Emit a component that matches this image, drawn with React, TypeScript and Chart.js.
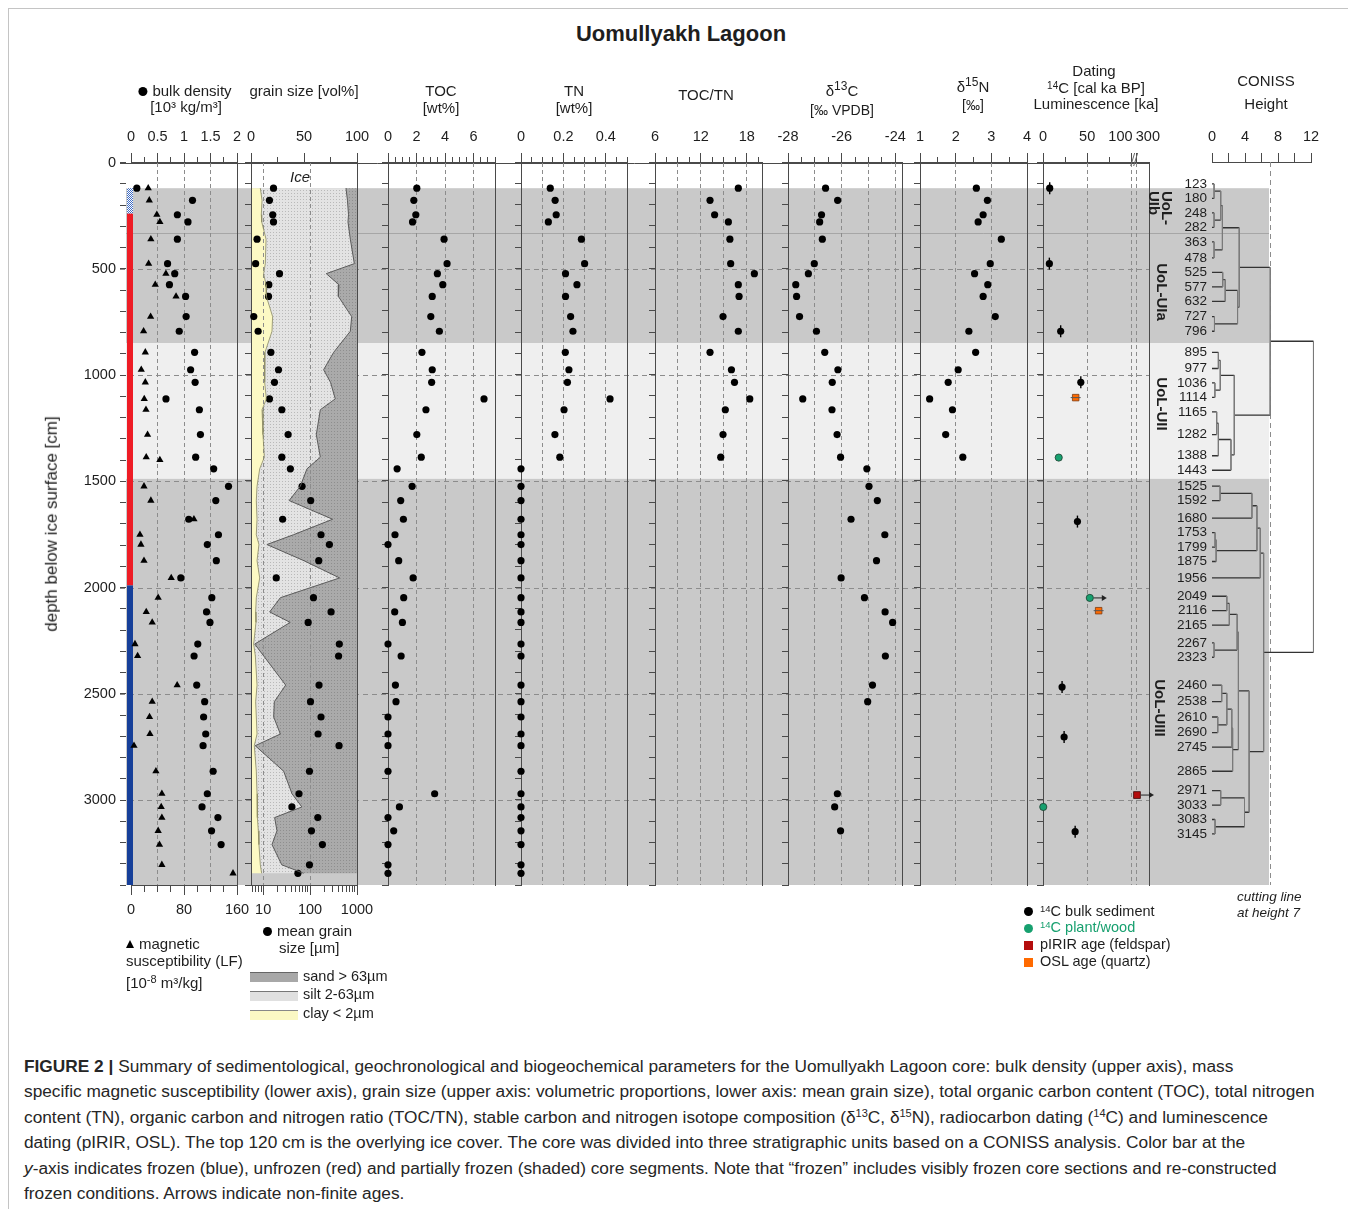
import React, { useEffect, useRef } from "react";
import { Chart, registerables } from "chart.js";

Chart.register(...registerables);

const FONT = '"Liberation Sans", Arial, Helvetica, sans-serif';
const AXIS = "#4a4a4a";
const GRID = "#8c8c8c";
const TXT = "#1e1e1e";
const TICK_SIZE = 14.5;

// ======================= DATA =======================
const sampleDepth = [123, 180, 248, 282, 363, 478, 525, 577, 632, 727, 796, 895, 977, 1036, 1114, 1165, 1282, 1388, 1443, 1525, 1592, 1680, 1753, 1799, 1875, 1956, 2049, 2116, 2165, 2267, 2323, 2460, 2538, 2610, 2690, 2745, 2865, 2971, 3033, 3083, 3145, 3210, 3305, 3345];

const bulkDensity = [0.11, 1.16, 0.875, 1.075, 0.875, 0.69, 0.825, 0.725, 1.03, 1.04, 0.91, 1.2, 1.125, 1.21, 0.66, 1.29, 1.31, 1.22, 1.56,
  1.84, 1.6, 1.09, 1.65, 1.44, 1.61, 0.94, 1.525, 1.425, 1.49, 1.26, 1.19, 1.24, 1.39, 1.37, 1.41, 1.36, 1.55, 1.44, 1.34, 1.64, 1.52, 1.7, null, null];

const magSusDepth = [123, 180, 248, 282, 363, 478, 525, 577, 632, 727, 796, 895, 977, 1036, 1114, 1165, 1282, 1388, 1401, 1525, 1592, 1680, 1753, 1799, 1875, 1956, 2049, 2116, 2165, 2267, 2323, 2460, 2538, 2610, 2690, 2745, 2865, 2971, 3033, 3083, 3145, 3210, 3305, 3345];
const magSus = [26, 27.6, 39, 43.6, 30, 26.6, 52.7, 36.6, 68, 29.6, 19, 21.6, 15.5, 21.6, 20, 22.6, 25, 23, 43.6,
  19.6, 30, 95, 13.5, 15, 19.6, 60.7, 41, 23, 32, 6, 10, 69.7, 32, 28, 28.6, 4.5, 37.6, 46.6, 45.6, 46.6, 41, 43, 46.6, 154];

const meanGrain = [16.6, 13.6, 16, 16.6, 7.4, 6.9, 22.3, 13.2, 13, 6.3, 7.8, 14.6, 21.2, 17.4, 13.6, 25, 34, 25, 38,
  67.5, 103, 26, 171, 258, 153, 19, 118, 280, 91, 420, 405, 155, 102, 171, 148, 414, 97, 58, 41, 146, 107, 183, 97, 55];

const clayPct = [8.8, 10.4, 9.7, 10.1, 14.2, 13.5, 11.9, 14.2, 14.5, 20.4, 19.8, 13.2, 12.6, 13.2, 14.5, 10.4, 11.3, 12.6, 8.2,
  5.7, 5.0, 5.7, 5.0, 7.5, 5.7, 8.2, 5.0, 4.4, 4.7, 2.5, 4.1, 5.7, 4.4, 5.0, 5.7, 3.1, 5.0, 5.7, 5.7, 6.3, 6.9, 7.5, 8.8, 10.0];
const claySiltPct = [89.6, 91.0, 92.0, 91.5, 93.7, 97.5, 71.0, 83.0, 82.4, 95.0, 93.7, 78.0, 68.5, 75.0, 79.5, 65.4, 61.6, 65.4, 52.8,
  46.5, 36.0, 77.0, 40.0, 15.0, 50.0, 83.6, 27.7, 17.6, 37.0, 3.5, 12.0, 32.7, 22.0, 21.4, 27.7, 4.0, 30.8, 38.7, 48.0, 22.3, 24.5, 19.8, 29.0, 49.7];

const toc = [2.02, 1.81, 1.95, 1.72, 3.93, 4.14, 3.46, 3.84, 3.1, 3.0, 3.6, 2.38, 3.1, 3.06, 6.73, 2.66, 2.02, 2.33, 0.64,
  1.69, 0.89, 1.08, 0.49, 0, 0.75, 1.76, 1.1, 0.47, 1.01, 0, 0.92, 0.52, 0.56, 0, 0, 0, 0, 3.27, 0.8, 0, 0.4, 0, 0, 0];

const tn = [0.138, 0.161, 0.166, 0.129, 0.285, 0.3, 0.21, 0.264, 0.21, 0.234, 0.245, 0.209, 0.226, 0.219, 0.42, 0.203, 0.16, 0.183, 0,
  0, 0, 0, 0, 0, 0, 0, 0, 0, 0, 0, 0, 0, 0, 0, 0, 0, 0, 0, 0, 0, 0, 0, 0, 0];

const tocTn = [16.9, 13.2, 13.8, 15.6, 15.8, 15.9, 19.0, 16.9, 17.0, 14.9, 16.9, 13.2, 16.0, 16.4, 18.4, 15.2, 14.9, 14.6, null,
  null, null, null, null, null, null, null, null, null, null, null, null, null, null, null, null, null, null, null, null, null, null, null, null, null];

const d13C = [-26.6, -26.15, -26.75, -26.82, -26.72, -27.02, -27.24, -27.71, -27.68, -27.57, -26.94, -26.63, -26.14, -26.35, -27.45, -26.36, -26.17, -26.04, -25.06,
  -24.98, -24.67, -25.65, -24.39, null, -24.7, -26.02, -25.15, -24.38, -24.1, null, -24.37, -24.85, -25.03, null, null, null, null, -26.16, -26.26, null, -26.04, null, null, null];

const d15N = [2.58, 2.89, 2.77, 2.63, 3.28, 2.97, 2.53, 2.9, 2.77, 3.11, 2.37, 2.56, 2.07, 1.79, 1.27, 1.91, 1.72, 2.2, null,
  null, null, null, null, null, null, null, null, null, null, null, null, null, null, null, null, null, null, null, null, null, null, null, null, null];

// dating (ka); type: bulk = 14C bulk sediment, plant = 14C plant/wood, pirir = pIRIR feldspar, osl = OSL quartz
const datingDepth = [123, 478, 796, 1036, 1691, 2469, 2704, 3149, 1390, 2050, 3033, 1108, 2110, 2977];
const datingAge = [7.6, 7.2, 20, 42.8, 39, 21.6, 23.9, 36.4, 17.8, 53, 0.3, 37, 63, 300];
const datingType = ["bulk", "bulk", "bulk", "bulk", "bulk", "bulk", "bulk", "bulk", "plant", "plant", "plant", "osl", "osl", "pirir"];
const datingMinimum = [false, false, false, false, false, false, false, false, false, true, false, false, false, true];

// CONISS leaves and merges (negative = leaf -(index+1), non-negative = earlier merge)
const leafDepth = [123, 180, 248, 282, 363, 478, 525, 577, 632, 727, 796, 895, 977, 1036, 1114, 1165, 1282, 1388, 1443, 1525, 1592, 1680, 1753, 1799, 1875, 1956, 2049, 2116, 2165, 2267, 2323, 2460, 2538, 2610, 2690, 2745, 2865, 2971, 3033, 3083, 3145];
const mergeA = [-1, -3, 0, -5, 2, -7, 5, -10, 6, 4, -12, -14, 10, -16, 13, 14, 12, 9, -20, 18, -23, 20, 19, 22, -27, 24, -30, 25, -32, -34, 28, 30, 31, 27, -38, -40, 34, 33, 23, 17];
const mergeB = [-2, -4, 1, -6, 3, -8, -9, -11, 7, 8, -13, -15, 11, -17, -18, -19, 15, 16, -21, -22, -24, -25, 21, -26, -28, -29, -31, 26, -33, -35, 29, -36, -37, 32, -39, -41, 35, 36, 37, 38];
const mergeHeight = [0.25, 0.25, 1.06, 0.25, 1.26, 1.3, 1.6, 0.3, 3.1, 3.3, 0.77, 0.35, 1.0, 0.57, 0.77, 2.3, 2.7, 7.05, 0.98, 4.84, 0.37, 0.5, 5.45, 5.85, 1.8, 2.1, 0.25, 3.05, 1.18, 0.7, 1.8, 2.4, 2.5, 3.2, 1.06, 0.37, 3.94, 4.5, 6.26, 12.3];
const cuttingHeight = 7;

// stratigraphic units (shading) and core state bar
const unitTop = [0, 120, 850, 1488];
const unitBottom = [120, 850, 1488, 3400];
const unitColor = ["#ffffff", "#c9c9c9", "#efefef", "#c9c9c9"];
const subunitBoundary = [330];
const stateTop = [120, 240, 1990];
const stateBottom = [240, 1990, 3400];
const stateKind = ["partial", "unfrozen", "frozen"];

// axis ticks / labels
const depthTickLabels = [0, 500, 1000, 1500, 2000, 2500, 3000];
const bdTickLabels = [0, 0.5, 1, 1.5, 2];
const bdGrid = [0.5, 1, 1.5];
const magTickLabels = [0, 80, 160];
const grainTickLabels = [0, 50, 100];
const meanGrainTicks = [6, 7, 8, 9, 10, 20, 30, 40, 50, 60, 70, 80, 90, 100, 200, 300, 400, 500, 600, 700, 800, 900, 1000];
const meanGrainLabels = [10, 100, 1000];
const meanGrainGrid = [10, 100];
const tocTickLabels = [0, 2, 4, 6];
const tocGrid = [2, 4, 6];
const tnTickLabels = [0, 0.2, 0.4];
const tnGrid = [0.1, 0.2, 0.3, 0.4];
const ratioTickLabels = [6, 12, 18];
const ratioGrid = [9, 12, 15, 18];
const d13CTickLabels = [-28, -26, -24];
const d13CGrid = [-27, -26, -25, -24];
const d15NTickLabels = [1, 2, 3, 4];
const d15NGrid = [2, 3];
const datingTicks = [0, 25, 50, 75, 100, 300];
const datingTickLabels = [0, 50, 100, 300];
const datingGrid = [50, 100, 300];
const conissTickLabels = [0, 4, 8, 12];

// ======================= LAYOUT =======================
const PLOT_TOP = 162;
const PLOT_BOTTOM = 885;
const DEPTH_MAX = 3400;
const PADL = 26, PADR = 26, PADT = 4, TOP_H = 52, YW = 6, BOT_H = 42, PADB = 14;
const BG_LEFT = 126, BG_RIGHT = 1269, DATING_RIGHT = 1149;
const STATE_BAR_W = 6;
const LABEL_GAP = 68;
const DATING_BREAK = 6.4 / 200;
const datingDisplay = (a: number) => (a <= 100 ? a : 100 + (a - 100) * DATING_BREAK);

// ======================= HELPERS =======================
const stepTicks = (a: number, b: number, s: number) => {
  const out: number[] = [];
  for (let v = a; v <= b + 1e-9; v += s) out.push(Math.round(v * 1e6) / 1e6);
  return out;
};
const isIn = (arr: number[], v: any) => typeof v === "number" && arr.some((a) => Math.abs(a - v) < 1e-6);
const fmtNum = (v: number) => String(+v.toFixed(3));
const pts = (xs: (number | null)[], ys: number[]) =>
  xs.map((x, i) => ({ x, y: ys[i] })).filter((p) => p.x !== null && p.y !== null);

const depthMinor = stepTicks(0, DEPTH_MAX, 100);

function makeTile(base: string, dot: string, size: number, dots: number[][]) {
  const c = document.createElement("canvas");
  c.width = size; c.height = size;
  const g = c.getContext("2d")!;
  g.fillStyle = base; g.fillRect(0, 0, size, size);
  g.fillStyle = dot;
  dots.forEach(([x, y]) => g.fillRect(x, y, 1, 1));
  return c;
}

function spreadLabels(pos: number[], gap: number) {
  let cl = pos.map((p) => ({ sum: p, n: 1, top: p }));
  let merged = true;
  while (merged) {
    merged = false;
    for (let i = 0; i < cl.length - 1; i++) {
      const a = cl[i], b = cl[i + 1];
      if (b.top - (a.top + (a.n - 1) * gap) < gap) {
        const n = a.n + b.n, sum = a.sum + b.sum;
        cl.splice(i, 2, { sum, n, top: sum / n - ((n - 1) * gap) / 2 });
        merged = true;
        break;
      }
    }
  }
  const out: number[] = [];
  cl.forEach((c) => { for (let k = 0; k < c.n; k++) out.push(c.top + k * gap); });
  return out;
}

type AxisSpec = { type?: string; min: number; max: number; ticks: number[]; labels: number[]; grid: number[]; format?: (v: number) => string };
const labelOf = (s: AxisSpec, v: number) => (isIn(s.labels, v) ? (s.format ? s.format(v) : fmtNum(v)) : "");

function topAxis(s: AxisSpec) {
  return {
    type: s.type || "linear", position: "top", min: s.min, max: s.max,
    afterBuildTicks: (sc: any) => { sc.ticks = s.ticks.map((v) => ({ value: v })); },
    afterFit: (sc: any) => { sc.height = TOP_H; },
    ticks: { autoSkip: false, maxRotation: 0, minRotation: 0, padding: 7, color: TXT, font: { family: FONT, size: TICK_SIZE }, callback: (v: number) => labelOf(s, v) },
    grid: {
      drawOnChartArea: true, drawTicks: true, tickLength: 9, tickColor: AXIS, tickWidth: 1, lineWidth: 1,
      color: (c: any) => (c.tick && isIn(s.grid, c.tick.value) ? GRID : "rgba(0,0,0,0)"),
      tickBorderDash: (c: any) => (c.tick && isIn(s.labels, c.tick.value) ? [] : [0, 4, 5, 100]),
    },
    border: { display: true, color: AXIS, width: 1, dash: [4, 3] },
  };
}

function bottomAxis(s: AxisSpec) {
  return {
    type: s.type || "linear", position: "bottom", min: s.min, max: s.max,
    afterBuildTicks: (sc: any) => { sc.ticks = s.ticks.map((v) => ({ value: v })); },
    afterFit: (sc: any) => { sc.height = BOT_H; },
    ticks: { autoSkip: false, maxRotation: 0, minRotation: 0, padding: 6, color: TXT, font: { family: FONT, size: TICK_SIZE }, callback: (v: number) => labelOf(s, v) },
    grid: {
      drawOnChartArea: s.grid.length > 0, drawTicks: true, tickLength: 10, tickColor: AXIS, tickWidth: 1, lineWidth: 1,
      color: (c: any) => (c.tick && isIn(s.grid, c.tick.value) ? GRID : "rgba(0,0,0,0)"),
      tickBorderDash: (c: any) => (c.tick && isIn(s.labels, c.tick.value) ? [] : [6, 100]),
    },
    border: { display: true, color: AXIS, width: 1, dash: [4, 3] },
  };
}

function depthAxis(border: boolean, ticks: boolean) {
  return {
    type: "linear", position: "left", reverse: true, min: 0, max: DEPTH_MAX,
    afterBuildTicks: (sc: any) => { sc.ticks = depthMinor.map((v) => ({ value: v })); },
    afterFit: (sc: any) => { sc.width = YW; },
    ticks: { display: false },
    grid: { display: ticks, drawOnChartArea: false, drawTicks: true, tickLength: YW, tickColor: AXIS, tickWidth: 1 },
    border: { display: border, color: AXIS, width: 1 },
  };
}

const rightBorder = {
  type: "linear", position: "right", reverse: true, min: 0, max: DEPTH_MAX,
  afterFit: (sc: any) => { sc.width = 0; },
  ticks: { display: false },
  grid: { display: false, drawTicks: false, tickLength: 0 },
  border: { display: true, color: AXIS, width: 1 },
};

const baseOptions = (padding: any) => ({
  animation: false, responsive: false, devicePixelRatio: 1, events: [],
  layout: { padding },
  plugins: { legend: { display: false }, tooltip: { enabled: false } },
});

type PanelSpec = { id: string; left: number; right: number; top: AxisSpec; bottom?: AxisSpec; leftBorder: boolean; leftTicks: boolean; datasets: any[]; plugins?: any[] };

function panelBox(p: PanelSpec) {
  return {
    left: p.left - PADL - YW,
    top: PLOT_TOP - TOP_H - PADT,
    width: PADL + YW + (p.right - p.left) + PADR,
    height: PADT + TOP_H + (PLOT_BOTTOM - PLOT_TOP) + (p.bottom ? BOT_H : 0) + PADB,
  };
}

function panelConfig(p: PanelSpec) {
  const scales: any = { x: topAxis(p.top), y: depthAxis(p.leftBorder, p.leftTicks), yr: rightBorder };
  if (p.bottom) scales.xb = bottomAxis(p.bottom);
  return {
    type: "scatter",
    data: { datasets: p.datasets },
    options: { ...baseOptions({ left: PADL, right: PADR, top: PADT, bottom: PADB }), scales },
    plugins: p.plugins || [],
  };
}

const dots = (data: any[], axis = "x", extra: any = {}) => ({
  data, xAxisID: axis, yAxisID: "y", showLine: false, pointRadius: 3.6, pointStyle: "circle",
  pointBackgroundColor: "#000", pointBorderWidth: 0, clip: false, ...extra,
});

// ======================= PLUGINS =======================
const bgPlugin = {
  id: "bgBands",
  beforeDraw(chart: any) {
    const { ctx, chartArea: a } = chart;
    const ys = chart.scales.y;
    ctx.save();
    unitTop.forEach((t, i) => {
      const y1 = ys.getPixelForValue(t), y2 = ys.getPixelForValue(unitBottom[i]);
      ctx.fillStyle = unitColor[i];
      ctx.fillRect(a.left, y1, a.right - a.left, y2 - y1);
    });
    ctx.lineWidth = 1;
    ctx.strokeStyle = "#a6a6a6";
    subunitBoundary.forEach((d) => {
      const y = Math.round(ys.getPixelForValue(d)) + 0.5;
      ctx.beginPath(); ctx.moveTo(a.left, y); ctx.lineTo(a.right, y); ctx.stroke();
    });
    const xr = a.left + (DATING_RIGHT - BG_LEFT);
    ctx.setLineDash([5, 4]);
    ctx.strokeStyle = GRID;
    depthTickLabels.filter((v) => v > 0).forEach((d) => {
      const y = Math.round(ys.getPixelForValue(d)) + 0.5;
      ctx.beginPath(); ctx.moveTo(a.left - 6, y); ctx.lineTo(xr, y); ctx.stroke();
    });
    ctx.setLineDash([]);
    ctx.strokeStyle = AXIS;
    const y0 = Math.round(ys.getPixelForValue(0)) + 0.5;
    ctx.beginPath(); ctx.moveTo(a.left - 6, y0); ctx.lineTo(xr, y0); ctx.stroke();
    const partial = ctx.createPattern(makeTile("#ffffff", "#3f6cc4", 2, [[0, 0], [1, 1]]), "repeat");
    stateTop.forEach((t, i) => {
      const y1 = ys.getPixelForValue(t), y2 = ys.getPixelForValue(stateBottom[i]);
      const k = stateKind[i];
      ctx.fillStyle = k === "partial" ? partial : k === "unfrozen" ? "#ee1c25" : "#163f99";
      ctx.fillRect(a.left + 1, y1, STATE_BAR_W, y2 - y1);
    });
    ctx.restore();
  },
};

const grainFillPlugin = {
  id: "grainFill",
  beforeDraw(chart: any) {
    const { ctx } = chart;
    const xs = chart.scales.x, ys = chart.scales.y;
    const X = (v: number) => xs.getPixelForValue(v);
    const Y = (d: number) => ys.getPixelForValue(d);
    const n = sampleDepth.length;
    const silt = ctx.createPattern(makeTile("#e3e3e3", "#b9b9b9", 3, [[0, 0]]), "repeat");
    const sand = ctx.createPattern(makeTile("#aaaaaa", "#8e8e8e", 3, [[1, 1]]), "repeat");
    const poly = (left: number[], right: number[], fill: any) => {
      ctx.beginPath();
      for (let i = 0; i < n; i++) { const px = X(left[i]), py = Y(sampleDepth[i]); i === 0 ? ctx.moveTo(px, py) : ctx.lineTo(px, py); }
      for (let i = n - 1; i >= 0; i--) ctx.lineTo(X(right[i]), Y(sampleDepth[i]));
      ctx.closePath();
      ctx.fillStyle = fill; ctx.fill();
    };
    ctx.save();
    poly(sampleDepth.map(() => 0), clayPct, "#fcf9c4");
    poly(clayPct, claySiltPct, silt);
    poly(claySiltPct, sampleDepth.map(() => 100), sand);
    ctx.restore();
  },
};

const datingPlugin = {
  id: "datingExtras",
  afterDatasetsDraw(chart: any) {
    const { ctx, chartArea: a } = chart;
    const xs = chart.scales.x, ys = chart.scales.y;
    ctx.save();
    ctx.strokeStyle = "#222"; ctx.fillStyle = "#222"; ctx.lineWidth = 1;
    datingAge.forEach((age, i) => {
      if (!datingMinimum[i]) return;
      const px = xs.getPixelForValue(datingDisplay(age)), py = ys.getPixelForValue(datingDepth[i]);
      const x2 = px + 17;
      ctx.beginPath(); ctx.moveTo(px + 4, py); ctx.lineTo(x2 - 3, py); ctx.stroke();
      ctx.beginPath(); ctx.moveTo(x2, py); ctx.lineTo(x2 - 5, py - 3); ctx.lineTo(x2 - 5, py + 3); ctx.closePath(); ctx.fill();
    });
    const bx = xs.getPixelForValue(datingDisplay(100) + (datingDisplay(300) - datingDisplay(100)) / 2);
    ctx.strokeStyle = "#666";
    [-1.5, 1.5].forEach((o) => { ctx.beginPath(); ctx.moveTo(bx + o - 2, a.top + 4); ctx.lineTo(bx + o + 2, a.top - 9); ctx.stroke(); });
    ctx.restore();
  },
};

const cuttingPlugin = {
  id: "cutting",
  beforeDatasetsDraw(chart: any) {
    const { ctx, chartArea: a } = chart;
    const x = Math.round(chart.scales.x.getPixelForValue(cuttingHeight)) + 0.5;
    ctx.save();
    ctx.strokeStyle = GRID; ctx.lineWidth = 1; ctx.setLineDash([5, 4]);
    ctx.beginPath(); ctx.moveTo(x, a.top); ctx.lineTo(x, a.bottom); ctx.stroke();
    ctx.restore();
  },
};

// ======================= PANELS =======================
const datingDs = (type: string) => pts(datingAge.map((a, i) => (datingType[i] === type ? datingDisplay(a) : null)), datingDepth);

const PANELS: PanelSpec[] = [
  {
    id: "bd", left: 131, right: 237, leftBorder: false, leftTicks: false,
    top: { min: 0, max: 2, ticks: stepTicks(0, 2, 0.25), labels: bdTickLabels, grid: bdGrid },
    bottom: { min: 0, max: 160, ticks: stepTicks(0, 160, 20), labels: magTickLabels, grid: [] },
    datasets: [
      dots(pts(bulkDensity, sampleDepth)),
      dots(pts(magSus, magSusDepth), "xb", { pointStyle: "triangle", pointRadius: 4.2 }),
    ],
  },
  {
    id: "grain", left: 251, right: 357, leftBorder: true, leftTicks: true,
    top: { min: 0, max: 100, ticks: [0, 25, 50, 75, 100], labels: grainTickLabels, grid: [] },
    bottom: { type: "logarithmic", min: 5.5, max: 1000, ticks: meanGrainTicks, labels: meanGrainLabels, grid: meanGrainGrid },
    plugins: [grainFillPlugin],
    datasets: [
      { data: pts(clayPct, sampleDepth), xAxisID: "x", yAxisID: "y", showLine: true, borderColor: "#8d8b62", borderWidth: 0.8, pointRadius: 0, clip: false },
      { data: pts(claySiltPct, sampleDepth), xAxisID: "x", yAxisID: "y", showLine: true, borderColor: "#5a5a5a", borderWidth: 1, pointRadius: 0, clip: false },
      dots(pts(meanGrain, sampleDepth), "xb"),
    ],
  },
  {
    id: "toc", left: 388, right: 495, leftBorder: true, leftTicks: true,
    top: { min: 0, max: 7.5, ticks: stepTicks(0, 7.5, 0.5), labels: tocTickLabels, grid: tocGrid },
    datasets: [dots(pts(toc, sampleDepth))],
  },
  {
    id: "tn", left: 521, right: 627, leftBorder: true, leftTicks: true,
    top: { min: 0, max: 0.5, ticks: stepTicks(0, 0.5, 0.05), labels: tnTickLabels, grid: tnGrid },
    datasets: [dots(pts(tn, sampleDepth))],
  },
  {
    id: "ratio", left: 655, right: 762, leftBorder: true, leftTicks: true,
    top: { min: 6, max: 20, ticks: stepTicks(6, 19.5, 1.5), labels: ratioTickLabels, grid: ratioGrid },
    datasets: [dots(pts(tocTn, sampleDepth))],
  },
  {
    id: "d13c", left: 788, right: 902, leftBorder: true, leftTicks: true,
    top: { min: -28, max: -23.75, ticks: stepTicks(-28, -24, 0.5), labels: d13CTickLabels, grid: d13CGrid },
    datasets: [dots(pts(d13C, sampleDepth))],
  },
  {
    id: "d15n", left: 920, right: 1027, leftBorder: true, leftTicks: true,
    top: { min: 1, max: 4, ticks: stepTicks(1, 4, 0.5), labels: d15NTickLabels, grid: d15NGrid },
    datasets: [dots(pts(d15N, sampleDepth))],
  },
  {
    id: "dating", left: 1043, right: 1149, leftBorder: true, leftTicks: true,
    top: {
      min: 0, max: 120, ticks: datingTicks.map(datingDisplay), labels: datingTickLabels.map(datingDisplay), grid: datingGrid.map(datingDisplay),
      format: (v: number) => {
        const a = datingTicks.find((t) => Math.abs(datingDisplay(t) - v) < 1e-6);
        if (a === 100) return "100\u2002\u2002\u2002";
        if (a === 300) return "\u2002\u2002\u2002300";
        return String(a);
      },
    },
    plugins: [datingPlugin],
    datasets: [
      dots(datingDs("bulk")),
      dots(datingDs("bulk"), "x", { pointStyle: "line", pointRotation: 90, pointRadius: 6, pointBorderWidth: 1.4, pointBorderColor: "#000" }),
      dots(datingDs("plant"), "x", { pointBackgroundColor: "#17a06f", pointBorderColor: "#1d3d2f", pointBorderWidth: 0.8 }),
      dots(datingDs("osl"), "x", { pointStyle: "line", pointRadius: 5, pointBorderWidth: 1, pointBorderColor: "#555" }),
      dots(datingDs("osl"), "x", { pointStyle: "rect", pointRadius: 4.6, pointBackgroundColor: "#ff6a00", pointBorderColor: "#7a3a10", pointBorderWidth: 0.8 }),
      dots(datingDs("pirir"), "x", { pointStyle: "rect", pointRadius: 4.8, pointBackgroundColor: "#b40d0d", pointBorderColor: "#3a0a0a", pointBorderWidth: 0.8 }),
    ],
  },
];

// ======================= BACKGROUND & CONISS =======================
const BG_BOX = { left: 30, top: 150, width: 1250, height: 750 };
function bgConfig() {
  return {
    type: "scatter",
    data: { datasets: [] },
    options: {
      ...baseOptions({ left: 4, right: BG_BOX.left + BG_BOX.width - BG_RIGHT, top: PLOT_TOP - BG_BOX.top, bottom: BG_BOX.top + BG_BOX.height - PLOT_BOTTOM }),
      scales: {
        x: { type: "linear", display: false, min: 0, max: 1 },
        y: {
          type: "linear", position: "left", reverse: true, min: 0, max: DEPTH_MAX,
          afterBuildTicks: (sc: any) => { sc.ticks = depthMinor.map((v) => ({ value: v })); },
          afterFit: (sc: any) => { sc.width = BG_LEFT - BG_BOX.left - 4; },
          ticks: { autoSkip: false, padding: 4, color: TXT, font: { family: FONT, size: TICK_SIZE }, callback: (v: number) => (isIn(depthTickLabels, v) ? String(v) : "") },
          grid: { drawOnChartArea: false, drawTicks: true, tickLength: 6, tickColor: AXIS },
          border: { display: false },
        },
      },
    },
    plugins: [bgPlugin],
  };
}

const CONISS_LEFT = 1212, CONISS_RIGHT = 1311, CONISS_YW = 52;
const CONISS_BOX = {
  left: CONISS_LEFT - CONISS_YW - PADL,
  top: PLOT_TOP - TOP_H - PADT,
  width: PADL + CONISS_YW + (CONISS_RIGHT - CONISS_LEFT) + PADR,
  height: PADT + TOP_H + (PLOT_BOTTOM - PLOT_TOP) + PADB,
};

function conissConfig() {
  const leafY = spreadLabels(leafDepth, LABEL_GAP);
  const nodeY: number[] = [], nodeH: number[] = [];
  const gy = (r: number) => (r < 0 ? leafY[-r - 1] : nodeY[r]);
  const gh = (r: number) => (r < 0 ? 0 : nodeH[r]);
  const H: any[] = [], V: any[] = [];
  mergeHeight.forEach((h, j) => {
    const a = mergeA[j], b = mergeB[j];
    const ya = gy(a), yb = gy(b);
    H.push({ x: gh(a), y: ya }, { x: h, y: ya }, { x: null, y: null }, { x: gh(b), y: yb }, { x: h, y: yb }, { x: null, y: null });
    V.push({ x: h, y: ya }, { x: h, y: yb }, { x: null, y: null });
    nodeY[j] = (ya + yb) / 2;
    nodeH[j] = h;
  });
  const xSpec: AxisSpec = { min: 0, max: 12, ticks: stepTicks(0, 12, 2), labels: conissTickLabels, grid: [] };
  const x = topAxis(xSpec);
  (x as any).grid.drawOnChartArea = false;
  (x as any).grid.tickBorderDash = [];
  return {
    type: "scatter",
    data: {
      datasets: [
        { data: V, xAxisID: "x", yAxisID: "y", showLine: true, spanGaps: false, borderColor: "#7a7a7a", borderWidth: 1, pointRadius: 0, clip: false },
        { data: H, xAxisID: "x", yAxisID: "y", showLine: true, spanGaps: false, borderColor: "#333", borderWidth: 1.3, pointRadius: 0, clip: false },
      ],
    },
    options: {
      ...baseOptions({ left: PADL, right: PADR, top: PADT, bottom: PADB }),
      scales: {
        x,
        y: {
          type: "linear", position: "left", reverse: true, min: 0, max: DEPTH_MAX,
          afterBuildTicks: (sc: any) => { sc.ticks = leafY.map((v) => ({ value: v })); },
          afterFit: (sc: any) => { sc.width = CONISS_YW; },
          ticks: { autoSkip: false, padding: 5, color: TXT, font: { family: FONT, size: 13.5 }, callback: (_v: number, i: number) => String(leafDepth[i]) },
          grid: { display: false, drawTicks: false, tickLength: 0 },
          border: { display: false },
        },
      },
    },
    plugins: [cuttingPlugin],
  };
}

// ======================= COMPONENTS =======================
function ChartBox({ box, make }: { box: { left: number; top: number; width: number; height: number }; make: () => any }) {
  const ref = useRef<HTMLCanvasElement>(null);
  useEffect(() => {
    const chart = new Chart(ref.current as HTMLCanvasElement, make());
    return () => chart.destroy();
  }, []);
  return (
    <canvas ref={ref} width={box.width} height={box.height}
      style={{ position: "absolute", left: box.left - 8, top: box.top - 8, width: box.width, height: box.height }} />
  );
}

type LP = { x: number; y: number; align?: "left" | "center" | "right"; size?: number; bold?: boolean; italic?: boolean; color?: string; rotate?: number; lh?: number; children: any };
function L({ x, y, align = "center", size = 15, bold, italic, color = TXT, rotate, lh, children }: LP) {
  const tx = align === "center" ? "-50%" : align === "right" ? "-100%" : "0";
  return (
    <div style={{
      position: "absolute", left: x - 8, top: y - 8,
      transform: `translate(${tx},-50%)${rotate ? ` rotate(${rotate}deg)` : ""}`,
      fontFamily: FONT, fontSize: size, fontWeight: bold ? 700 : 400, fontStyle: italic ? "italic" : "normal",
      color, whiteSpace: "pre", lineHeight: lh ? `${lh}px` : 1.2, textAlign: "left",
    }}>{children}</div>
  );
}
const Sup = ({ children, size = 10, up = 5 }: { children: any; size?: number; up?: number }) => (
  <span style={{ fontSize: size, position: "relative", top: -up, lineHeight: 0, verticalAlign: "baseline" }}>{children}</span>
);
const DotMark = () => (
  <span style={{ display: "inline-block", width: 9, height: 9, borderRadius: "50%", background: "#000", marginRight: 5, position: "relative", top: 0 }} />
);
const TriMark = () => (
  <span style={{ display: "inline-block", width: 0, height: 0, borderLeft: "4.5px solid transparent", borderRight: "4.5px solid transparent", borderBottom: "8px solid #000", marginRight: 5, position: "relative", top: -1 }} />
);

const Swatch = ({ x, y, w, h, bg, border }: { x: number; y: number; w: number; h: number; bg: string; border?: string }) => (
  <div style={{ position: "absolute", left: x - 8, top: y - 8, width: w, height: h, background: bg, borderTop: border ? `1.5px solid ${border}` : undefined, boxSizing: "border-box" }} />
);

const captionLines = [
  [<b key="b">FIGURE 2 | </b>, "Summary of sedimentological, geochronological and biogeochemical parameters for the Uomullyakh Lagoon core: bulk density (upper axis), mass"],
  ["specific magnetic susceptibility (lower axis), grain size (upper axis: volumetric proportions, lower axis: mean grain size), total organic carbon content (TOC), total nitrogen"],
  ["content (TN), organic carbon and nitrogen ratio (TOC/TN), stable carbon and nitrogen isotope composition (δ", <Sup key="a" size={11} up={6}>13</Sup>, "C, δ", <Sup key="b" size={11} up={6}>15</Sup>, "N), radiocarbon dating (", <Sup key="c" size={11} up={6}>14</Sup>, "C) and luminescence"],
  ["dating (pIRIR, OSL). The top 120 cm is the overlying ice cover. The core was divided into three stratigraphic units based on a CONISS analysis. Color bar at the"],
  [<i key="y">y</i>, "-axis indicates frozen (blue), unfrozen (red) and partially frozen (shaded) core segments. Note that “frozen” includes visibly frozen core sections and re-constructed"],
  ["frozen conditions. Arrows indicate non-finite ages."],
];

export default function App() {
  return (
    <div style={{ position: "relative", width: 1340, height: 1201, background: "#fff", fontFamily: FONT }}>
      <div style={{ position: "absolute", left: 0, top: 0, width: 1341, height: 1215, border: "1px solid #c4c4c4", boxSizing: "border-box" }} />
      <ChartBox box={BG_BOX} make={bgConfig} />
      {PANELS.map((p) => <ChartBox key={p.id} box={panelBox(p)} make={() => panelConfig(p)} />)}
      <ChartBox box={CONISS_BOX} make={conissConfig} />

      <L x={681} y={34} size={22} bold>Uomullyakh Lagoon</L>

      <L x={185} y={91}><DotMark />bulk density</L>
      <L x={186} y={107}>[10³ kg/m³]</L>
      <L x={304} y={91}>grain size [vol%]</L>
      <L x={441} y={91}>TOC</L>
      <L x={441} y={108}>[wt%]</L>
      <L x={574} y={91}>TN</L>
      <L x={574} y={108}>[wt%]</L>
      <L x={706} y={95}>TOC/TN</L>
      <L x={842} y={91}>δ<Sup size={12} up={6}>13</Sup>C</L>
      <L x={842} y={110} size={14}>[‰ VPDB]</L>
      <L x={973} y={87}>δ<Sup size={12} up={6}>15</Sup>N</L>
      <L x={973} y={105} size={14}>[‰]</L>
      <L x={1094} y={71}>Dating</L>
      <L x={1096} y={88}><Sup size={10} up={4}>14</Sup>C [cal ka BP]</L>
      <L x={1096} y={104}>Luminescence [ka]</L>
      <L x={1266} y={81}>CONISS</L>
      <L x={1266} y={104}>Height</L>

      <L x={52} y={524} size={17} rotate={-90}>depth below ice surface [cm]</L>
      <L x={300} y={177} italic>Ice</L>

      <L x={1161} y={208} bold rotate={90} lh={13}>{"UoL-\nUIb"}</L>
      <L x={1162} y={292} bold rotate={90}>UoL-UIa</L>
      <L x={1162} y={404} bold rotate={90}>UoL-UII</L>
      <L x={1160} y={708} bold rotate={90}>UoL-UIII</L>

      <L x={126} y={944} align="left"><TriMark />magnetic</L>
      <L x={126} y={961} align="left">susceptibility (LF)</L>
      <L x={126} y={983} align="left">[10<Sup size={11} up={5}>-8</Sup> m³/kg]</L>
      <L x={263} y={931} align="left"><DotMark />mean grain</L>
      <L x={279} y={948} align="left">size [µm]</L>

      <Swatch x={250} y={972} w={48} h={10} bg="#a8a8a8" border="#666" />
      <Swatch x={250} y={991} w={48} h={10} bg="#e0e0e0" border="#777" />
      <Swatch x={250} y={1010} w={48} h={10} bg="#fbf8c4" border="#888" />
      <L x={303} y={977} align="left" size={14.5}>sand &gt; 63µm</L>
      <L x={303} y={995} align="left" size={14.5}>silt 2-63µm</L>
      <L x={303} y={1014} align="left" size={14.5}>clay &lt; 2µm</L>

      <div style={{ position: "absolute", left: 1024 - 8, top: 907 - 8, width: 9, height: 9, borderRadius: 5, background: "#000" }} />
      <div style={{ position: "absolute", left: 1024 - 8, top: 924 - 8, width: 9, height: 9, borderRadius: 5, background: "#17a06f" }} />
      <div style={{ position: "absolute", left: 1024 - 8, top: 941 - 8, width: 9, height: 9, background: "#b40d0d" }} />
      <div style={{ position: "absolute", left: 1024 - 8, top: 958 - 8, width: 9, height: 9, background: "#ff6a00" }} />
      <L x={1040} y={912} align="left" size={14.5}><Sup size={9.5} up={4}>14</Sup>C bulk sediment</L>
      <L x={1040} y={928} align="left" size={14.5} color="#17a06f"><Sup size={9.5} up={4}>14</Sup>C plant/wood</L>
      <L x={1040} y={945} align="left" size={14.5}>pIRIR age (feldspar)</L>
      <L x={1040} y={962} align="left" size={14.5}>OSL age (quartz)</L>

      <L x={1237} y={897} align="left" size={13.5} italic>cutting line</L>
      <L x={1237} y={913} align="left" size={13.5} italic>at height 7</L>

      <div style={{ position: "absolute", left: 24 - 8, top: 1054 - 8, fontFamily: FONT, fontSize: 17.3, lineHeight: "25.4px", color: "#262626" }}>
        {captionLines.map((ln, i) => <div key={i} style={{ whiteSpace: "nowrap", height: 25.4 }}>{ln}</div>)}
      </div>
    </div>
  );
}
